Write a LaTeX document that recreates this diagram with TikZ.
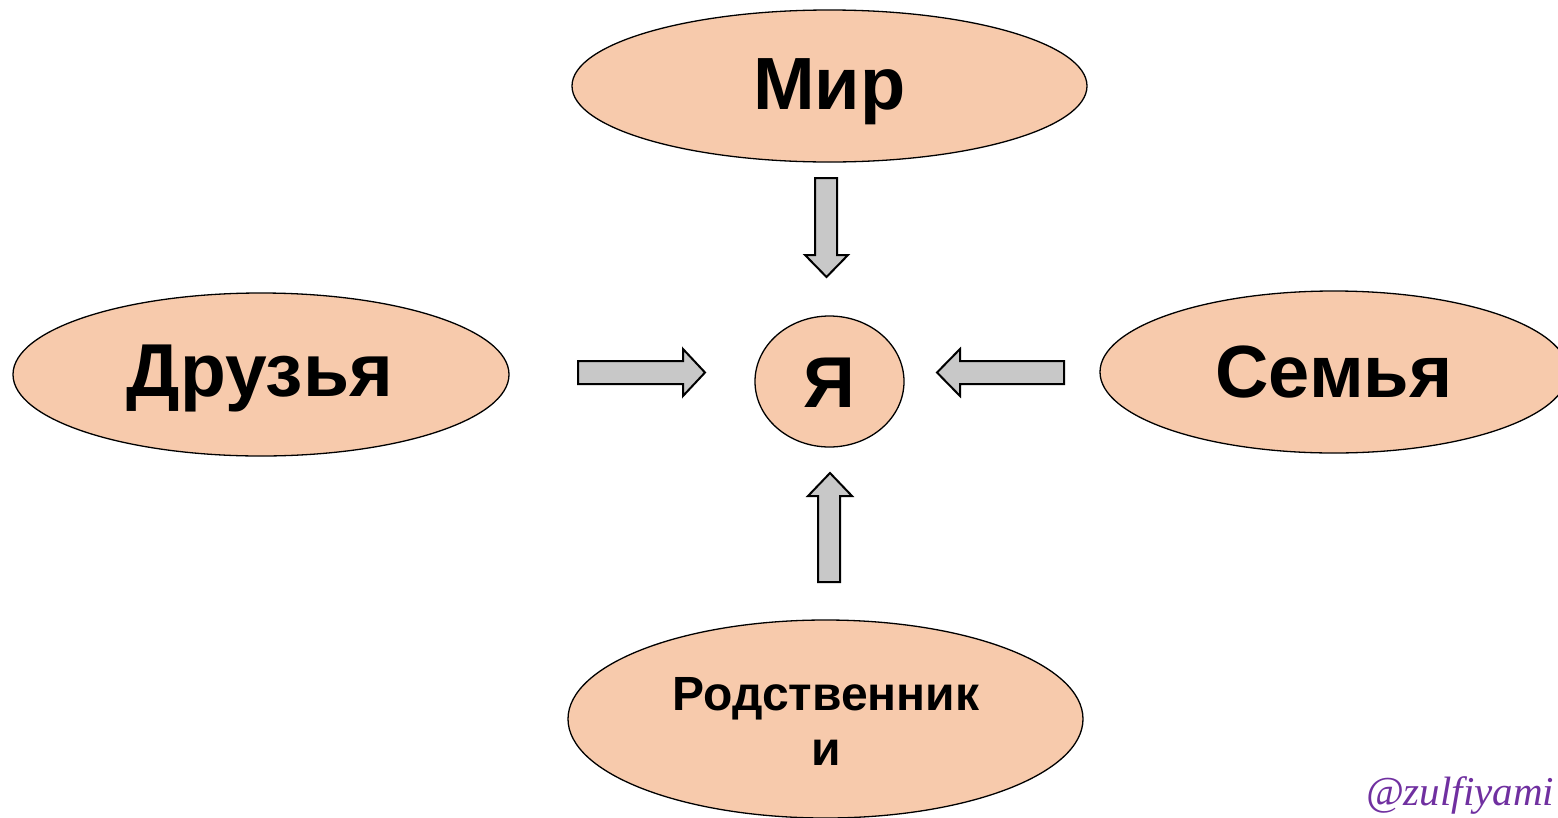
\documentclass[tikz,border=0pt]{standalone}
\usepackage{fontspec}
\setmainfont{Liberation Sans}
\newfontfamily\wmfont{Liberation Serif}
\begin{document}
\begin{tikzpicture}[x=1pt,y=-1pt,
  oval/.style={ellipse, draw=black, line width=1.3pt, fill=peach, inner sep=0pt},
  blockarrow/.style={draw=black, line width=2pt, fill=arrowgray, line join=miter},
  lbl/.style={font=\bfseries\fontsize{74}{76}\selectfont}]
\usetikzlibrary{shapes.geometric}
\definecolor{peach}{HTML}{F7CAAC}
\definecolor{arrowgray}{HTML}{C8C8C8}
\definecolor{wm}{HTML}{7030A0}
\useasboundingbox (0,0) rectangle (1558,817);
\clip (0,0) rectangle (1558,817);
% ellipses
\node[oval, minimum width=515pt, minimum height=152pt] (mir) at (829.5,86) {};
\node[lbl] at (829.5,92) {Мир};
\node[oval, minimum width=496pt, minimum height=163pt] (druz) at (261,374.5) {};
\node[lbl, font=\bfseries\fontsize{75}{77}\selectfont] at (260,378) {Друзья};
\node[oval, minimum width=468pt, minimum height=162pt] (sem) at (1334,372) {};
\node[lbl, font=\bfseries\fontsize{74}{76}\selectfont] at (1334,372) {Семья};
\node[oval, minimum width=515pt, minimum height=198pt] (rod) at (825.5,719) {};
\node[align=center, font=\bfseries\fontsize{48}{55}\selectfont] at (826,721) {Родственник\\и};
\node[oval, minimum width=149pt, minimum height=131pt] (ya) at (829.5,381.5) {};
\node[font=\bfseries\fontsize{72}{74}\selectfont] at (829.5,383) {Я};
% block arrows
\draw[blockarrow] (815,178) -- (837,178) -- (837,255) -- (848,255) -- (826.5,277) -- (805,255) -- (815,255) -- cycle;
\draw[blockarrow] (578,361) -- (683,361) -- (683,349) -- (705,372.5) -- (683,396) -- (683,384) -- (578,384) -- cycle;
\draw[blockarrow] (1064,361) -- (960,361) -- (960,349) -- (937,372.5) -- (960,396) -- (960,384) -- (1064,384) -- cycle;
\draw[blockarrow] (818,582) -- (840,582) -- (840,496) -- (852,496) -- (830,473) -- (808,496) -- (818,496) -- cycle;
% watermark
\node[anchor=base west, text=wm, font=\wmfont\itshape\fontsize{41}{43}\selectfont, inner sep=0pt] (wmk) at (1366,805) {@zulfiyami};
\end{tikzpicture}
\end{document}
